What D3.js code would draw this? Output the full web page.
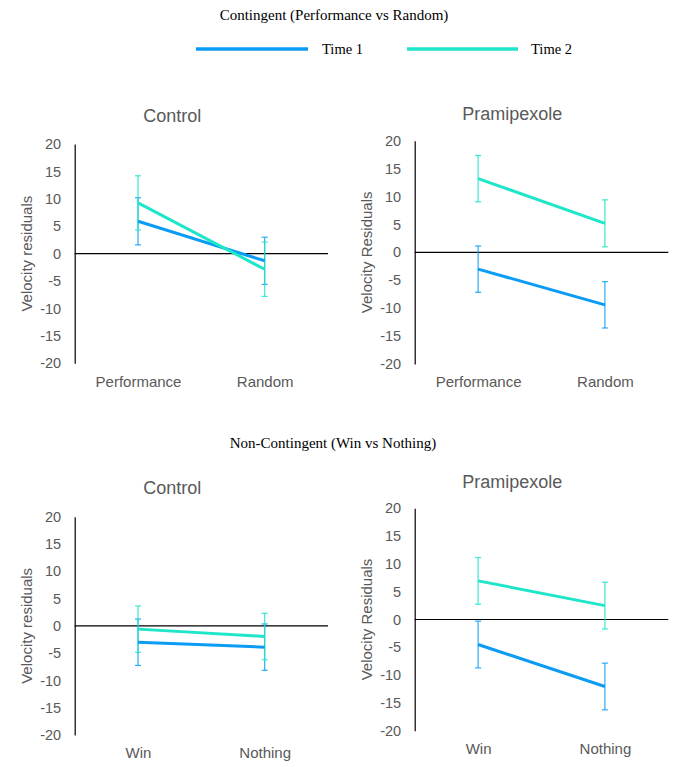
<!DOCTYPE html>
<html><head><meta charset="utf-8">
<script src="https://cdn.jsdelivr.net/npm/d3@7"></script>
<style>
html,body{margin:0;padding:0;background:#fff;}
svg{display:block;}
</style></head>
<body>
<svg id="chart" width="685" height="767"></svg>
<script>
// ---- data ----
const headers = ["Contingent (Performance vs Random)", "Non-Contingent (Win vs Nothing)"];
const seriesNames = ["Time 1", "Time 2"];
const catsContingent = ["Performance", "Random"];
const catsNonContingent = ["Win", "Nothing"];
const panelTitles = ["Control", "Pramipexole", "Control", "Pramipexole"];
const yLabels = ["Velocity residuals", "Velocity Residuals", "Velocity residuals", "Velocity Residuals"];
const yTicks = [20, 15, 10, 5, 0, -5, -10, -15, -20];

// Contingent - Control
const ctrlContT1 = [5.9, -1.3];
const ctrlContT1Err = [4.3, 4.3];
const ctrlContT2 = [9.25, -2.85];
const ctrlContT2Err = [4.95, 4.95];
// Contingent - Pramipexole
const pramContT1 = [-3.0, -9.4];
const pramContT1Err = [4.15, 4.15];
const pramContT2 = [13.2, 5.2];
const pramContT2Err = [4.15, 4.2];
// Non-contingent - Control
const ctrlNonT1 = [-3.0, -3.9];
const ctrlNonT1Err = [4.25, 4.25];
const ctrlNonT2 = [-0.6, -1.95];
const ctrlNonT2Err = [4.25, 4.25];
// Non-contingent - Pramipexole
const pramNonT1 = [-4.5, -12.05];
const pramNonT1Err = [4.2, 4.2];
const pramNonT2 = [6.95, 2.5];
const pramNonT2Err = [4.2, 4.2];

// ---- style ----
const colors = ["#0a9cf5", "#1ee6c8"];
const grey = "#595959";
const sansFont = "'Liberation Sans', Arial, sans-serif";
const serifFont = "'Liberation Serif', 'Times New Roman', serif";

const svg = d3.select("#chart");

// headers
svg.append("text").attr("x", 334).attr("y", 20).attr("text-anchor", "middle")
  .attr("font-family", serifFont).attr("font-size", 15).attr("fill", "#000").text(headers[0]);
svg.append("text").attr("x", 333).attr("y", 448).attr("text-anchor", "middle")
  .attr("font-family", serifFont).attr("font-size", 15).attr("fill", "#000").text(headers[1]);

// legend
const legendItems = [{x1: 196, x2: 308, tx: 322}, {x1: 407, x2: 518, tx: 531}];
seriesNames.forEach((name, i) => {
  const li = legendItems[i];
  svg.append("line").attr("x1", li.x1).attr("x2", li.x2).attr("y1", 49).attr("y2", 49)
    .attr("stroke", colors[i]).attr("stroke-width", 3.5);
  svg.append("text").attr("x", li.tx).attr("y", 54).attr("font-family", serifFont)
    .attr("font-size", 14.5).attr("fill", "#000").text(name);
});

const panels = [
  {ax: 74.7, right: 328, yTop: 144, yBot: 363.3, titleY: 121.5, titleX: 172.3, catY: 386.5, cats: catsContingent,
   t1: ctrlContT1, e1: ctrlContT1Err, t2: ctrlContT2, e2: ctrlContT2Err},
  {ax: 414.7, right: 668.3, yTop: 140.7, yBot: 364, titleY: 120, titleX: 512.3, catY: 386.5, cats: catsContingent,
   t1: pramContT1, e1: pramContT1Err, t2: pramContT2, e2: pramContT2Err},
  {ax: 74.7, right: 328, yTop: 516.7, yBot: 735, titleY: 494, titleX: 172.3, catY: 758, cats: catsNonContingent,
   t1: ctrlNonT1, e1: ctrlNonT1Err, t2: ctrlNonT2, e2: ctrlNonT2Err},
  {ax: 414.7, right: 668.3, yTop: 508.3, yBot: 730.7, titleY: 487.5, titleX: 512.3, catY: 754, cats: catsNonContingent,
   t1: pramNonT1, e1: pramNonT1Err, t2: pramNonT2, e2: pramNonT2Err}
];

panels.forEach((p, pi) => {
  const g = svg.append("g");
  const y = d3.scaleLinear().domain([-20, 20]).range([p.yBot, p.yTop]);
  const x = d3.scalePoint().domain(p.cats).range([p.ax, p.right]).padding(0.5);

  // title
  g.append("text").attr("x", p.titleX).attr("y", p.titleY).attr("text-anchor", "middle")
    .attr("font-family", sansFont).attr("font-size", 18).attr("fill", grey).text(panelTitles[pi]);

  // y axis
  const yAxis = d3.axisLeft(y).tickValues(yTicks).tickSize(0).tickSizeOuter(0).tickPadding(13.5)
    .tickFormat(d => String(d));
  const ya = g.append("g").attr("transform", `translate(${p.ax},0)`).call(yAxis);
  ya.select(".domain").attr("stroke", "#000").attr("stroke-width", 1.2);
  ya.selectAll("text").attr("font-family", sansFont).attr("font-size", 14.5).attr("fill", grey);

  // zero line
  g.append("line").attr("x1", p.ax).attr("x2", p.right).attr("y1", y(0)).attr("y2", y(0))
    .attr("stroke", "#000").attr("stroke-width", 1.2);

  // x axis labels
  const xAxis = d3.axisBottom(x).tickSize(0).tickPadding(0);
  const xa = g.append("g").attr("transform", `translate(0,${p.catY})`).call(xAxis);
  xa.select(".domain").remove();
  xa.selectAll("text").attr("dy", null).attr("y", 0).attr("font-family", sansFont)
    .attr("font-size", 15).attr("fill", grey);

  // y label
  g.append("text").attr("transform", `translate(${pi % 2 === 0 ? 32 : 372},${(p.yTop + p.yBot) / 2}) rotate(-90)`)
    .attr("text-anchor", "middle").attr("font-family", sansFont).attr("font-size", 15).attr("fill", grey)
    .text(yLabels[pi]);

  const series = [{v: p.t1, e: p.e1}, {v: p.t2, e: p.e2}];
  // error bars
  series.forEach((s, si) => {
    s.v.forEach((v, i) => {
      const cx = x(p.cats[i]);
      const top = y(v + s.e[i]), bot = y(v - s.e[i]);
      g.append("line").attr("x1", cx).attr("x2", cx).attr("y1", top).attr("y2", bot)
        .attr("stroke", colors[si]).attr("stroke-width", 1.2).attr("opacity", 0.85);
      [top, bot].forEach(yy => g.append("line").attr("x1", cx - 3).attr("x2", cx + 3)
        .attr("y1", yy).attr("y2", yy).attr("stroke", colors[si]).attr("stroke-width", 1.2).attr("opacity", 0.85));
    });
  });
  // lines
  const line = d3.line().x((d, i) => x(p.cats[i])).y(d => y(d));
  series.forEach((s, si) => {
    g.append("path").datum(s.v).attr("d", line).attr("fill", "none")
      .attr("stroke", colors[si]).attr("stroke-width", 3);
  });
});
</script>
</body></html>
